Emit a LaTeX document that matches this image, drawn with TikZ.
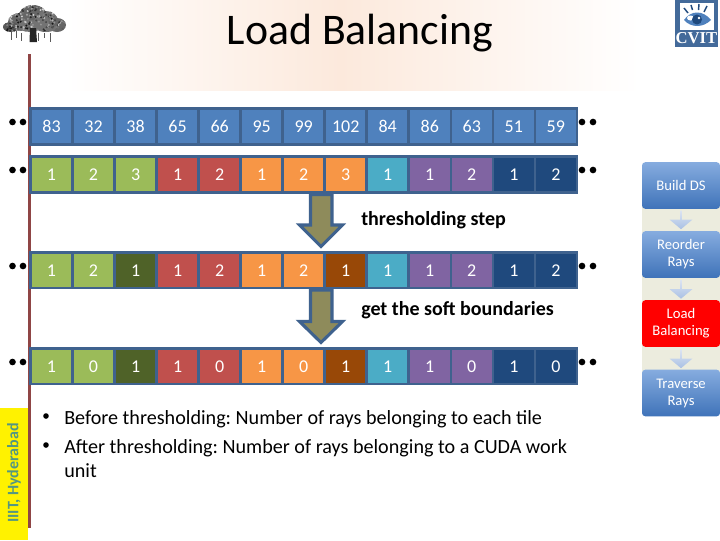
\documentclass[tikz,border=0pt]{standalone}
\usepackage{fontspec}
\setmainfont{Carlito}
\newfontfamily\cvitfont{Liberation Serif}
\usetikzlibrary{shapes.arrows,calc}
\definecolor{frameblue}{HTML}{3F628E}
\definecolor{cblue}{HTML}{4F81BD}
\definecolor{cgreen}{HTML}{9BBB59}
\definecolor{cred}{HTML}{C0504D}
\definecolor{corange}{HTML}{F79646}
\definecolor{caqua}{HTML}{4BACC6}
\definecolor{cpurple}{HTML}{8064A2}
\definecolor{cnavy}{HTML}{1F497D}
\definecolor{cdgreen}{HTML}{4F6228}
\definecolor{cbrown}{HTML}{984807}
\definecolor{olive}{HTML}{8E8B5B}
\definecolor{maroon}{HTML}{8F4545}
\definecolor{sidebg}{HTML}{ECECDE}
\definecolor{peach}{HTML}{FCE9DC}
\definecolor{blue1}{HTML}{86ACDF}
\definecolor{blue2}{HTML}{3F73B9}
\definecolor{blue3}{HTML}{DCE4F2}
\definecolor{blue4}{HTML}{A9C0E4}
\tikzset{
  x=0.75pt,y=-0.75pt,
  framebox/.style={fill=frameblue,draw=none},
  cell/.style={minimum width=29.6pt,minimum height=25pt,inner sep=0pt,text=white,font=\fontsize{13.5}{15}\selectfont},
  dotmark/.style={circle,fill=black,inner sep=0pt,minimum size=5pt},
  sidebox/.style={rounded corners=2.5pt,minimum width=58.5pt,minimum height=35pt,inner sep=0pt,align=center,text=white,
     font=\fontsize{11}{12.8}\selectfont,top color=blue1,bottom color=blue2},
  redbox/.style={sidebox,top color=red,bottom color=red},
  sidearrow/.style={single arrow,draw=none,shape border rotate=270,top color=blue3,bottom color=blue4,
     minimum width=17pt,minimum height=14pt,single arrow head extend=2.5pt,inner sep=0pt,single arrow tip angle=100},
  bigarrow/.style={fill=olive,draw=frameblue,line width=2.3pt,line join=miter},
  label/.style={anchor=west,inner sep=0pt,font=\fontsize{15}{18}\selectfont\bfseries,text=black},
  bullettext/.style={anchor=base west,inner sep=0pt,font=\fontsize{15.1}{18}\selectfont\frenchspacing,text=black},
  treeroot/.style={draw=black!65,line width=.7pt},
}
\begin{document}
\begin{tikzpicture}
\useasboundingbox (0,0) rectangle (720,540);
\fill[white] (0,0) rectangle (720,540);
% title background
\fill[left color=white,right color=peach] (65,0) rectangle (340,90);
\fill[left color=peach,right color=white] (340,0) rectangle (640,90);
\node[inner sep=0pt,font=\fontsize{32.8}{38}\selectfont] (title) at (360,33.5) {Load Balancing};
% maroon rule and yellow strip
\fill[yellow] (0,408) rectangle (28,540);
\fill[maroon] (27.5,54) rectangle (31,528);
\node[rotate=90,inner sep=0pt,text={rgb,255:red,84;green,150;blue,130},font=\fontsize{12}{14}\selectfont\bfseries] (iiit) at (14,473) {IIIT, Hyderabad};
% tree logo
\foreach \cx/\cy/\rx/\ry/\g in {33/18/15/13/60,20/22/12/9/60,46/21/12/10/55,57/25/9/7/60,11/27/8/5/65,30/26/12/6/55,46/28/10/4/55}
  \fill[black!\g] (\cx,\cy) ellipse [x radius=\rx,y radius=\ry];
\pgfmathsetseed{7}
\begin{scope}
\clip (33,18) ellipse [x radius=15,y radius=13] (20,22) ellipse [x radius=12,y radius=9] (46,21) ellipse [x radius=12,y radius=10] (57,25) ellipse [x radius=9,y radius=7] (11,27) ellipse [x radius=8,y radius=5] (30,26) ellipse [x radius=12,y radius=6] (46,28) ellipse [x radius=10,y radius=4];
\foreach \n in {1,...,260}{
  \pgfmathsetmacro{\px}{2+65*rnd}
  \pgfmathsetmacro{\py}{4+29*rnd}
  \pgfmathsetmacro{\pg}{int(15+80*rnd)}
  \fill[black!\pg] (\px,\py) circle (1.1);
}
\end{scope}
\fill[black!85] (30,28) -- (36,28) -- (37,42) -- (29.5,42) -- cycle;
\foreach \xa/\ya/\yb in {11/31/40,16/31/38,21/33/41,38/33/41,50/33/42,44/33/38}
  \draw[treeroot] (\xa,\ya) -- (\xa,\yb);
% CVIT logo
\fill[frameblue!75!cblue] (675,0) rectangle (718,47);
\fill[white] (680,3) rectangle (714,30);
\fill[cblue] (684,20) .. controls (691,10) and (703,10) .. (711,20) .. controls (703,28) and (691,28) .. (684,20) -- cycle;
\fill[white] (690.5,18) ellipse [x radius=3.5,y radius=2.5];
\fill[cnavy] (697,19.5) circle (5);
\fill[white] (699,18) circle (1.3);
\draw[cnavy,line width=1.1pt] (684,8) -- (688,13) (691,5) -- (692.5,10) (699,4) -- (698.5,10) (707,6) -- (704,12);
\node[inner sep=0pt,text=white,font=\fontsize{12.5}{13}\cvitfont\bfseries] (cvit) at (696.5,38) {CVIT};
% rows
\fill[framebox] (29,107.3) rectangle (578,145.7);
\fill[framebox] (29,155) rectangle (578,193.7);
\fill[framebox] (29,251) rectangle (578,289.3);
\fill[framebox] (29,347) rectangle (578,385);
\newcommand{\cellrow}[3]{%
  \foreach \val/\col [count=\i from 0] in {#3} {
    \node[cell,fill=\col] (#1-\i) at ({51.5+42.03*\i},#2) {\val};
  }}
\cellrow{a}{126.7}{83/cblue,32/cblue,38/cblue,65/cblue,66/cblue,95/cblue,99/cblue,102/cblue,84/cblue,86/cblue,63/cblue,51/cblue,59/cblue}
\cellrow{b}{174.5}{1/cgreen,2/cgreen,3/cgreen,1/cred,2/cred,1/corange,2/corange,3/corange,1/caqua,1/cpurple,2/cpurple,1/cnavy,2/cnavy}
\cellrow{c}{270.3}{1/cgreen,2/cgreen,1/cdgreen,1/cred,2/cred,1/corange,2/corange,1/cbrown,1/caqua,1/cpurple,2/cpurple,1/cnavy,2/cnavy}
\cellrow{d}{366.5}{1/cgreen,0/cgreen,1/cdgreen,1/cred,0/cred,1/corange,0/corange,1/cbrown,1/caqua,1/cpurple,0/cpurple,1/cnavy,0/cnavy}
% ellipsis dots
\foreach \name/\yy in {a/122,b/170,c/266,d/362}{
  \node[dotmark] (\name l1) at (12.5,\yy) {};
  \node[dotmark] (\name l2) at (23,\yy) {};
  \node[dotmark] (\name r1) at (582,\yy) {};
  \node[dotmark] (\name r2) at (593,\yy) {};
}
% block arrows
\draw[bigarrow] (310.5,194.5) -- (332,194.5) -- (332,225) -- (342.5,225) -- (321,246.5) -- (299.5,225) -- (310.5,225) -- cycle;
\draw[bigarrow] (310.5,290) -- (332,290) -- (332,321.5) -- (342.5,321.5) -- (321,342.5) -- (299.5,321.5) -- (310.5,321.5) -- cycle;
\node[label] (t1) at (361,220.5) {thresholding step};
\node[label] (t2) at (361,310) {get the soft boundaries};
% bullets
\node[circle,fill=black,inner sep=0pt,minimum size=4.2pt] (b1) at (46,416) {};
\node[circle,fill=black,inner sep=0pt,minimum size=4.2pt] (b2) at (46,445) {};
\node[bullettext] (l1) at (64,424) {Before thresholding: Number of rays belonging to each tile};
\node[bullettext] (l2) at (64,453) {After thresholding: Number of rays belonging to a CUDA work};
\node[bullettext] (l3) at (64,477) {unit};
% side panel
\fill[sidebg] (642,185) rectangle (720,393);
\node[sidebox] (s1) at (681,185.5) {Build DS};
\node[sidebox] (s2) at (681,254.5) {Reorder\\Rays};
\node[redbox] (s3) at (681,323.5) {Load\\Balancing};
\node[sidebox] (s4) at (681,393) {Traverse\\Rays};
\node[sidearrow] (ar1) at (681,219.5) {};
\node[sidearrow] (ar2) at (681,289) {};
\node[sidearrow] (ar3) at (681,358.5) {};
\end{tikzpicture}
\end{document}
